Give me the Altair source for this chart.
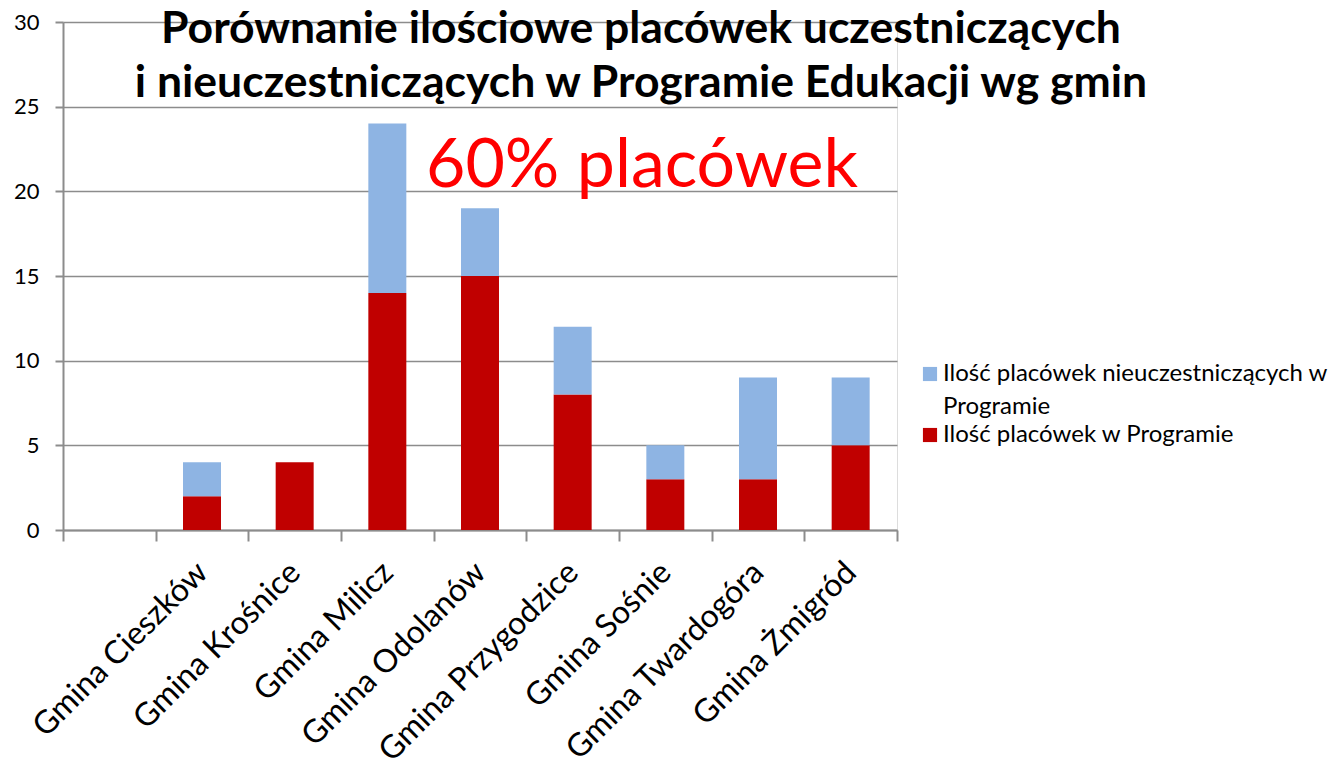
import altair as alt
import pandas as pd

# ---- data ----
categories = ["Gmina Cieszków", "Gmina Krośnice", "Gmina Milicz", "Gmina Odolanów",
              "Gmina Przygodzice", "Gmina Sośnie", "Gmina Twardogóra", "Gmina Żmigród"]
w_programie = [2, 4, 14, 15, 8, 3, 3, 5]
nieuczestniczace = [2, 0, 10, 4, 4, 2, 6, 4]
series_names = ["Ilość placówek nieuczestniczących w Programie", "Ilość placówek w Programie"]
series_colors = ["#8EB4E3", "#C00000"]
y_ticks = [0, 5, 10, 15, 20, 25, 30]
title_lines = ["Porównanie ilościowe placówek uczestniczących",
               "i nieuczestniczących w Programie Edukacji wg gmin"]
annotation = "60% placówek"

x_domain = [" "] + categories

rows = []
for c, v in zip(categories, w_programie):
    rows.append({"gmina": c, "seria": series_names[1], "wartosc": v, "ord": 0})
for c, v in zip(categories, nieuczestniczace):
    rows.append({"gmina": c, "seria": series_names[0], "wartosc": v, "ord": 1})
df = pd.DataFrame(rows)

FONT = "Lato"
GRID = "#8c8c8c"

legend_label_expr = (
    "datum.label == '" + series_names[0] + "' ? "
    "['Ilość placówek nieuczestniczących w', 'Programie'] : datum.label"
)

bars = alt.Chart(df).mark_bar(width=alt.RelativeBandSize(0.41)).encode(
    x=alt.X("gmina:N", scale=alt.Scale(domain=x_domain, paddingInner=0, paddingOuter=0),
            sort=x_domain,
            axis=alt.Axis(title=None, labelAngle=-45, labelFontSize=32, labelFont=FONT,
                          labelColor="black", labelAlign="right", labelBaseline="middle",
                          tickBand="extent", tickSize=11, tickColor=GRID,
                          tickWidth=2, domainColor=GRID, domainWidth=2, labelPadding=26,
                          labelLimit=400, grid=False)),
    y=alt.Y("wartosc:Q", stack="zero", scale=alt.Scale(domain=[0, 30], nice=False),
            axis=alt.Axis(title=None, values=y_ticks, labelFontSize=22, labelFont=FONT,
                          labelColor="black", tickSize=8, tickColor=GRID, tickWidth=2,
                          domainColor=GRID, domainWidth=2, gridColor=GRID, gridWidth=1.5,
                          labelPadding=16, grid=True)),
    color=alt.Color("seria:N", scale=alt.Scale(domain=series_names, range=series_colors),
                    legend=alt.Legend(title=None, orient="none", legendX=855, legendY=340,
                                      symbolType="square", symbolSize=200, symbolStrokeWidth=0,
                                      labelFontSize=24, labelFont=FONT, labelColor="black",
                                      labelExpr=legend_label_expr, labelLimit=600,
                                      rowPadding=4, padding=0, labelOffset=1)),
    order=alt.Order("ord:Q", sort="ascending"),
)

title_df = pd.DataFrame({"t": ["\n".join(title_lines)]})
title_txt = alt.Chart(title_df).mark_text(
    font=FONT, fontSize=44.5, fontWeight="bold", color="black", align="center",
    baseline="alphabetic", lineBreak="\n", lineHeight=54
).encode(x=alt.value(578), y=alt.value(21), text="t:N")

ann_df = pd.DataFrame({"t": [annotation]})
ann_txt = alt.Chart(ann_df).mark_text(
    font=FONT, fontSize=68, color="#FF0000", align="center", baseline="alphabetic"
).encode(x=alt.value(579), y=alt.value(165), text="t:N")

chart = alt.layer(bars, title_txt, ann_txt).properties(
    width=834, height=508,
    autosize=alt.AutoSizeParams(type="none"),
    padding={"left": 55, "top": 14, "right": 432, "bottom": 240},
).configure_view(strokeWidth=0).configure(
    background="white",
    style={"guide-label": {"lineHeight": 33}},
)

chart.save("out.html", embed_options={"renderer": "svg", "actions": False})
